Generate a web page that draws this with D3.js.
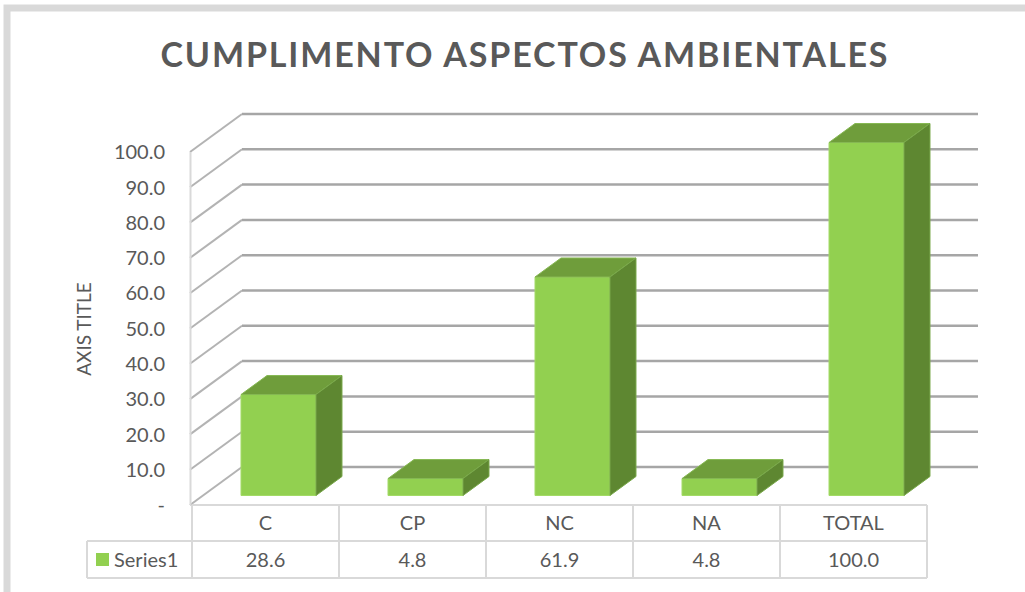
<!DOCTYPE html>
<html lang="es">
<head>
<meta charset="utf-8" />
<title>Cumplimento aspectos ambientales</title>
<script src="https://d3js.org/d3.v7.min.js"></script>
<style>
    body { margin: 0; background: #fff; }
    text { font-family: Lato, "Open Sans", sans-serif; fill: #595959; }
</style>
</head>
<body>
<svg width="1025" height="592"></svg>
<script>
    const categories = ["C", "CP", "NC", "NA", "TOTAL"];
    const values = [28.6, 4.8, 61.9, 4.8, 100.0];
    const yTicks = [0, 10, 20, 30, 40, 50, 60, 70, 80, 90, 100];
    const seriesName = "Series1";

    const svg = d3.select("svg");

    // depth of the 3d box (front plane -> back wall)
    const depthX = 52, depthY = -38;
    const proj = (x, y, d) => [x + d * depthX, y + d * depthY];

    const x = d3.scaleBand()
        .domain(categories)
        .range([192, 927]);

    const xBar = d3.scaleBand()
        .domain(categories)
        .range([192, 927])
        .paddingInner(0.49)
        .paddingOuter(0.245);

    const y = d3.scaleLinear()
        .domain([0, 100])
        .range([505, 152]);

    // outer frame
    svg.append("rect")
        .attr("x", 7).attr("y", 8)
        .attr("width", 1040).attr("height", 620)
        .attr("fill", "none")
        .attr("stroke", "#d9d9d9")
        .attr("stroke-width", 7);

    // title
    svg.append("text")
        .attr("x", 524)
        .attr("y", 67)
        .attr("text-anchor", "middle")
        .attr("textLength", 727)
        .attr("lengthAdjust", "spacing")
        .style("font-size", "34px")
        .style("font-weight", "bold")
        .text("CUMPLIMENTO ASPECTOS AMBIENTALES");

    // gridlines: side wall diagonal + back wall
    const grid = svg.append("g");
    grid.selectAll("line.side")
        .data(yTicks)
        .join("line")
        .attr("class", "side")
        .attr("x1", 190).attr("y1", d => y(d))
        .attr("x2", d => proj(190, y(d), 1)[0]).attr("y2", d => proj(190, y(d), 1)[1])
        .attr("stroke", "#b3b3b3")
        .attr("stroke-width", 2);
    grid.selectAll("line.back")
        .data(yTicks)
        .join("line")
        .attr("class", "back")
        .attr("x1", d => proj(190, y(d), 1)[0]).attr("y1", d => proj(190, y(d), 1)[1])
        .attr("x2", 978).attr("y2", d => proj(190, y(d), 1)[1])
        .attr("stroke", "#a6a6a6")
        .attr("stroke-width", 2.5);

    // vertical axis line
    svg.append("line")
        .attr("x1", 190.5).attr("x2", 190.5)
        .attr("y1", y(100)).attr("y2", y(0))
        .attr("stroke", "#d9d9d9")
        .attr("stroke-width", 2);

    // y tick labels
    svg.append("g")
        .selectAll("text")
        .data(yTicks)
        .join("text")
        .attr("x", 165)
        .attr("y", d => y(d))
        .attr("dy", "0.36em")
        .attr("text-anchor", "end")
        .style("font-size", "20px")
        .text(d => d === 0 ? "-" : d.toFixed(1));

    // axis title
    svg.append("text")
        .attr("transform", "translate(91,329) rotate(-90)")
        .attr("text-anchor", "middle")
        .style("font-size", "19px")
        .text("AXIS TITLE");

    // 3d bars
    const bars = svg.append("g")
        .selectAll("g")
        .data(categories.map((c, i) => ({ c, v: values[i] })))
        .join("g");

    const pts = a => a.map(p => p.join(",")).join(" ");

    bars.append("polygon")
        .attr("points", d => {
            const x0 = xBar(d.c), x1 = x0 + xBar.bandwidth();
            return pts([proj(x0, y(d.v), .25), proj(x1, y(d.v), .25), proj(x1, y(0), .25), proj(x0, y(0), .25)]);
        })
        .attr("fill", "#92d050")
        .attr("stroke", "#a3da66")
        .attr("stroke-width", 1);

    bars.append("polygon")
        .attr("points", d => {
            const x0 = xBar(d.c), x1 = x0 + xBar.bandwidth();
            return pts([proj(x0, y(d.v), .25), proj(x1, y(d.v), .25), proj(x1, y(d.v), .75), proj(x0, y(d.v), .75)]);
        })
        .attr("fill", "#6f9d3b")
        .attr("stroke", "#86b853")
        .attr("stroke-width", 1);

    bars.append("polygon")
        .attr("points", d => {
            const x1 = xBar(d.c) + xBar.bandwidth();
            return pts([proj(x1, y(d.v), .25), proj(x1, y(d.v), .75), proj(x1, y(0), .75), proj(x1, y(0), .25)]);
        })
        .attr("fill", "#5e8731")
        .attr("stroke", "#79a84a")
        .attr("stroke-width", 1);

    // data table
    const table = svg.append("g")
        .attr("stroke", "#d9d9d9")
        .attr("stroke-width", 2);
    const colEdges = categories.map(c => x(c)).concat([x.range()[1]]);
    table.selectAll("line.col")
        .data(colEdges)
        .join("line")
        .attr("x1", d => d).attr("x2", d => d)
        .attr("y1", 505).attr("y2", 578);
    table.append("line").attr("x1", 87).attr("x2", 87).attr("y1", 541).attr("y2", 578);
    table.append("line").attr("x1", 192).attr("x2", 927).attr("y1", 505).attr("y2", 505);
    table.append("line").attr("x1", 87).attr("x2", 927).attr("y1", 541).attr("y2", 541);
    table.append("line").attr("x1", 87).attr("x2", 927).attr("y1", 578).attr("y2", 578);

    svg.append("g")
        .selectAll("text")
        .data(categories)
        .join("text")
        .attr("x", d => x(d) + x.bandwidth() / 2)
        .attr("y", 523)
        .attr("dy", "0.36em")
        .attr("text-anchor", "middle")
        .style("font-size", "20px")
        .text(d => d);

    svg.append("g")
        .selectAll("text")
        .data(values)
        .join("text")
        .attr("x", (d, i) => x(categories[i]) + x.bandwidth() / 2)
        .attr("y", 560)
        .attr("dy", "0.36em")
        .attr("text-anchor", "middle")
        .style("font-size", "20px")
        .text(d => d.toFixed(1));

    // legend key in the table
    svg.append("rect")
        .attr("x", 96).attr("y", 553)
        .attr("width", 13).attr("height", 13)
        .attr("fill", "#92d050");
    svg.append("text")
        .attr("x", 114)
        .attr("y", 560)
        .attr("dy", "0.36em")
        .style("font-size", "20px")
        .text(seriesName);
</script>
</body>
</html>
